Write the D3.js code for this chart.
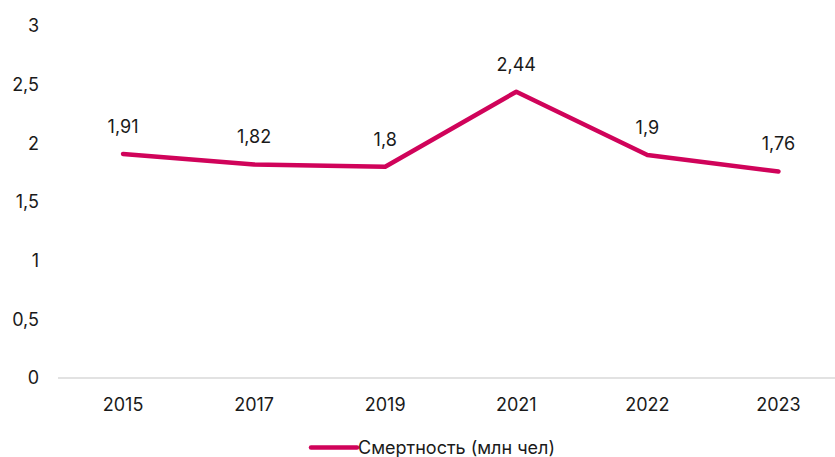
<!DOCTYPE html>
<html><head><meta charset="utf-8">
<script src="https://cdn.jsdelivr.net/npm/d3@7"></script>
<style>body{margin:0;background:#fff}svg{display:block}text{font-family:"Inter","Noto Sans",sans-serif}</style>
</head><body><svg id="c" width="835" height="457"></svg>
<script>
const categories = ["2015","2017","2019","2021","2022","2023"];
const values = [1.91, 1.82, 1.8, 2.44, 1.9, 1.76];
const valueLabels = ["1,91","1,82","1,8","2,44","1,9","1,76"];
const yTicks = [0, 0.5, 1, 1.5, 2, 2.5, 3];
const yTickLabels = ["0","0,5","1","1,5","2","2,5","3"];
const seriesName = "Смертность (млн чел)";
const color = "#D0035A";

const svg = d3.select("#c");
const x = d3.scaleBand().domain(categories).range([57.5, 844]);
const y = d3.scaleLinear().domain([0, 3]).range([378, 26]);

svg.append("line").attr("x1", 58).attr("x2", 835).attr("y1", y(0)).attr("y2", y(0))
  .attr("stroke", "#d9d9d9").attr("stroke-width", 1.3);

svg.append("g").selectAll("text").data(yTicks).join("text")
  .attr("x", 39).attr("y", d => y(d)).attr("dy", "0.35em")
  .attr("text-anchor", "end").attr("font-size", 18).attr("fill", "#1a1a1a")
  .text((d, i) => yTickLabels[i]);

svg.append("g").selectAll("text").data(categories).join("text")
  .attr("x", d => x(d) + x.bandwidth() / 2).attr("y", 411)
  .attr("text-anchor", "middle").attr("font-size", 18).attr("fill", "#1a1a1a")
  .text(d => d);

const line = d3.line().x((d, i) => x(categories[i]) + x.bandwidth() / 2).y(d => y(d));
svg.append("path").datum(values).attr("d", line).attr("fill", "none")
  .attr("stroke", color).attr("stroke-width", 4.5).attr("stroke-linejoin", "round").attr("stroke-linecap", "round");

svg.append("g").selectAll("text").data(values).join("text")
  .attr("x", (d, i) => x(categories[i]) + x.bandwidth() / 2).attr("y", d => y(d) - 21)
  .attr("text-anchor", "middle").attr("font-size", 18).attr("fill", "#1a1a1a")
  .text((d, i) => valueLabels[i]);

svg.append("line").attr("x1", 311).attr("x2", 357).attr("y1", 447.5).attr("y2", 447.5)
  .attr("stroke", color).attr("stroke-width", 4.5).attr("stroke-linecap", "round");
svg.append("text").attr("x", 358).attr("y", 447.5).attr("dy", "0.35em")
  .attr("font-size", 18).attr("fill", "#1a1a1a").text(seriesName);
</script></body></html>
